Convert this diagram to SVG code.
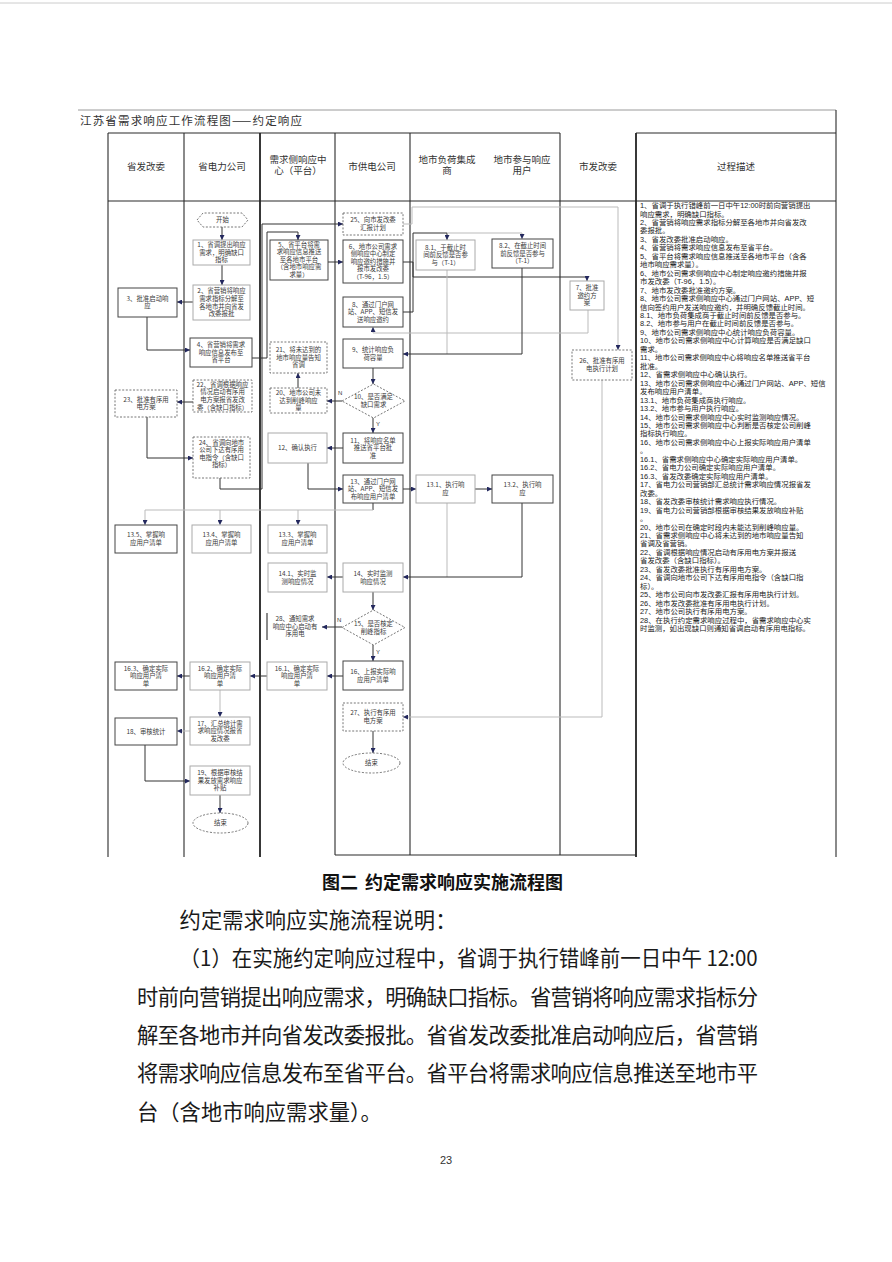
<svg xmlns="http://www.w3.org/2000/svg" width="892" height="1262" viewBox="0 0 892 1262">
<style>
.bg{fill:#fff}
.ln{stroke:#2a2a2a;stroke-width:1.1;fill:none}
.lt{stroke:#222;stroke-width:1.8;fill:none}
.lg{stroke:#9a9a9a;stroke-width:1;fill:none}
.n{fill:#fff;stroke:#444;stroke-width:1}
.nl{fill:#fff;stroke:#aaa;stroke-width:1}
.d{fill:#fff;stroke:#666;stroke-width:0.9;stroke-dasharray:2 1.6}
.c{fill:none;stroke:#333;stroke-width:1}
.cl{fill:none;stroke:#bbb;stroke-width:1}
.t{font-family:"Noto Sans CJK SC","Noto Sans",sans-serif;font-size:6.4px;fill:#3a3a3a;text-anchor:middle}
.h{font-family:"Liberation Sans","Noto Sans CJK SC",sans-serif;font-size:9.5px;fill:#333;text-anchor:middle}
.ds{font-family:"Liberation Sans","Noto Sans CJK SC",sans-serif;font-size:7.4px;fill:#222}
.p{font-family:"Noto Sans CJK SC","Noto Sans",sans-serif;font-size:21.3px;fill:#1a1a1a}
.yn{font-family:"Liberation Sans",sans-serif;font-size:6px;fill:#333}
</style>
<defs>
<marker id="a" markerWidth="5" markerHeight="5" refX="5" refY="2.5" orient="auto" markerUnits="userSpaceOnUse">
<path d="M0,0 L5,2.5 L0,5 z" fill="#23285e"/>
</marker>
</defs>
<rect class="bg" x="0" y="0" width="892" height="1262"/>
<line x1="0" y1="3" x2="892" y2="3" stroke="#ccc" stroke-width="1"/>

<!-- frame / swimlanes -->
<g id="frame">
<line class="lg" x1="78" y1="110" x2="836" y2="110"/>
<line class="ln" x1="108" y1="133" x2="560" y2="133"/>
<line class="ln" x1="636" y1="133" x2="836" y2="133"/>
<line class="ln" x1="108" y1="201" x2="836" y2="201"/>
<line class="ln" x1="836" y1="110" x2="836" y2="857"/>
<line class="ln" x1="108" y1="133" x2="108" y2="857"/>
<line class="ln" x1="184" y1="133" x2="184" y2="857"/>
<line class="lt" x1="260" y1="133" x2="260" y2="857"/>
<line class="ln" x1="335" y1="133" x2="335" y2="855"/>
<line class="ln" x1="410" y1="133" x2="410" y2="855"/>
<line class="ln" x1="560" y1="133" x2="560" y2="855"/>
<line class="lt" x1="636" y1="133" x2="636" y2="857"/>
<line class="ln" x1="335" y1="855" x2="636" y2="855"/>
<text x="80" y="125" font-family="Noto Sans CJK SC,sans-serif" font-size="11.5" fill="#333" textLength="222">江苏省需求响应工作流程图——约定响应</text>
<text class="h" x="146" y="170">省发改委</text>
<text class="h" x="222" y="170">省电力公司</text>
<text class="h"><tspan x="298" y="162.5">需求侧响应中</tspan><tspan x="298" y="174">心（平台）</tspan></text>
<text class="h" x="372" y="170">市供电公司</text>
<text class="h"><tspan x="447" y="162.5">地市负荷集成</tspan><tspan x="447" y="174">商</tspan></text>
<text class="h"><tspan x="522" y="162.5">地市参与响应</tspan><tspan x="522" y="174">用户</tspan></text>
<text class="h" x="598" y="170">市发改委</text>
<text class="h" x="736" y="170">过程描述</text>
</g>

<!-- connectors -->
<g id="connectors">
<path class="c" d="M222,227 V240" marker-end="url(#a)"/>
<path class="c" d="M222,265 V285" marker-end="url(#a)"/>
<path class="c" d="M193,302 H177" marker-end="url(#a)"/>
<path class="c" d="M147,317 V350 H190" marker-end="url(#a)"/>
<path class="c" d="M252,358 H267 V232 H298 V240" marker-end="url(#a)"/>
<path class="c" d="M328,262 H343" marker-end="url(#a)"/>
<path class="c" d="M403,262 H413 V277 H587 V281" marker-end="url(#a)"/>
<path class="cl" d="M588,310 V333 H373 V327" marker-end="url(#a)"/>
<path class="c" d="M403,312 H413 V233 H447 V240" marker-end="url(#a)"/>
<path class="cl" d="M447,233 H522 V239" marker-end="url(#a)"/>
<path class="cl" d="M447,270 V354"/>
<path class="c" d="M522,268 V354 H403" marker-end="url(#a)"/>
<path class="c" d="M373,368 V384" marker-end="url(#a)"/>
<path class="c" d="M342,401 H327" marker-end="url(#a)"/>
<path class="c" d="M298,388 V373" marker-end="url(#a)"/>
<path class="c" d="M193,402 H177" marker-end="url(#a)"/>
<path class="c" d="M147,417 V458 H193" marker-end="url(#a)"/>
<path class="c" d="M220,478 V489 H262 V224 H343" marker-end="url(#a)"/>
<path class="cl" d="M403,224 H412 V207 H618 V350" marker-end="url(#a)"/>
<path class="cl" d="M602,380 V717 H403" marker-end="url(#a)"/>
<path class="c" d="M373,731 V753" marker-end="url(#a)"/>
<path class="c" d="M373,418 V433" marker-end="url(#a)"/>
<path class="c" d="M343,448 H327" marker-end="url(#a)"/>
<path class="c" d="M308,463 V489 H343" marker-end="url(#a)"/>
<path class="c" d="M403,489 H416" marker-end="url(#a)"/>
<path class="c" d="M475,489 H492" marker-end="url(#a)"/>
<path class="cl" d="M447,503 V577"/>
<path class="c" d="M522,503 V577 H403" marker-end="url(#a)"/>
<path class="c" d="M373,503 V510"/>
<path class="cl" d="M373,510 H145"/>
<path class="cl" d="M145,510 V525" marker-end="url(#a)"/>
<path class="cl" d="M220,510 V525" marker-end="url(#a)"/>
<path class="cl" d="M298,510 V525" marker-end="url(#a)"/>
<path class="c" d="M343,577 H327" marker-end="url(#a)"/>
<path class="c" d="M373,592 V610" marker-end="url(#a)"/>
<path class="c" d="M342,627 H322" marker-end="url(#a)"/>
<path class="c" d="M373,645 V661" marker-end="url(#a)"/>
<path class="c" d="M343,676 H327" marker-end="url(#a)"/>
<path class="c" d="M267,676 H250" marker-end="url(#a)"/>
<path class="c" d="M190,676 H177" marker-end="url(#a)"/>
<path class="cl" d="M220,690 V717" marker-end="url(#a)"/>
<path class="cl" d="M190,731 H177" marker-end="url(#a)"/>
<path class="c" d="M145,745 V781 H190" marker-end="url(#a)"/>
<path class="c" d="M220,795 V813" marker-end="url(#a)"/>
<text class="yn" x="338" y="395">N</text>
<text class="yn" x="376" y="426">Y</text>
<text class="yn" x="337" y="622">N</text>
<text class="yn" x="376" y="654">Y</text>
</g>

<!-- 省发改委 -->
<g id="n3"><rect class="n" x="118" y="288" width="59" height="29"/><text class="t"><tspan x="147.5" y="300.8">3、批准启动响</tspan><tspan x="147.5" y="308.4">应</tspan></text></g>
<g id="n23"><rect class="d" x="115" y="390" width="62" height="27"/><text class="t"><tspan x="146" y="401.8">23、批准有序用</tspan><tspan x="146" y="409.4">电方案</tspan></text></g>
<g id="n13_5"><rect class="n" x="115" y="525" width="62" height="28"/><text class="t"><tspan x="146" y="537.3">13.5、掌握响</tspan><tspan x="146" y="544.9">应用户清单</tspan></text></g>
<g id="n16_3"><rect class="n" x="115" y="662" width="62" height="28"/><text class="t"><tspan x="146" y="670.6">16.3、确定实际</tspan><tspan x="146" y="678.2">响应用户清</tspan><tspan x="146" y="685.8">单</tspan></text></g>
<g id="n18"><rect class="n" x="115" y="718" width="62" height="27"/><text class="t"><tspan x="146" y="733.8">18、审核统计</tspan></text></g>

<!-- 省电力公司 -->
<g id="start"><polygon class="d" points="197,220 203,213 242,213 248,220 242,227 203,227"/><text class="t" x="222.5" y="222.3">开始</text></g>
<g id="n1"><rect class="nl" x="193" y="240" width="57" height="25"/><text class="t"><tspan x="221.5" y="247.1">1、省调提出响应</tspan><tspan x="221.5" y="254.7">需求，明确缺口</tspan><tspan x="221.5" y="262.3">指标</tspan></text></g>
<g id="n2"><rect class="nl" x="193" y="285" width="57" height="35"/><text class="t"><tspan x="221.5" y="293.3">2、省营销将响应</tspan><tspan x="221.5" y="300.9">需求指标分解至</tspan><tspan x="221.5" y="308.5">各地市并向省发</tspan><tspan x="221.5" y="316.1">改委报批</tspan></text></g>
<g id="n4"><rect class="n" x="190" y="338" width="62" height="29"/><text class="t"><tspan x="221" y="347.1">4、省营销将需求</tspan><tspan x="221" y="354.7">响应信息发布至</tspan><tspan x="221" y="362.3">省平台</tspan></text></g>
<g id="n22"><rect class="d" x="193" y="380" width="59" height="32"/><text class="t"><tspan x="222.5" y="386.8">22、省调根据响应</tspan><tspan x="222.5" y="394.4">情况启动有序用</tspan><tspan x="222.5" y="402">电方案报省发改</tspan><tspan x="222.5" y="409.6">委（含缺口指标）</tspan></text></g>
<g id="n24"><rect class="d" x="193" y="437" width="57" height="41"/><text class="t"><tspan x="221.5" y="444.5">24、省调向地市</tspan><tspan x="221.5" y="452.1">公司下达有序用</tspan><tspan x="221.5" y="459.7">电指令（含缺口</tspan><tspan x="221.5" y="467.3">指标）</tspan></text></g>
<g id="n13_4"><rect class="nl" x="192" y="525" width="59" height="28"/><text class="t"><tspan x="221.5" y="537.3">13.4、掌握响</tspan><tspan x="221.5" y="544.9">应用户清单</tspan></text></g>
<g id="n16_2"><rect class="nl" x="190" y="662" width="60" height="28"/><text class="t"><tspan x="220" y="670.6">16.2、确定实际</tspan><tspan x="220" y="678.2">响应用户清</tspan><tspan x="220" y="685.8">单</tspan></text></g>
<g id="n17"><rect class="nl" x="190" y="717" width="60" height="28"/><text class="t"><tspan x="220" y="725.6">17、汇总统计需</tspan><tspan x="220" y="733.2">求响应情况报省</tspan><tspan x="220" y="740.8">发改委</tspan></text></g>
<g id="n19"><rect class="nl" x="190" y="766" width="60" height="29"/><text class="t"><tspan x="220" y="775.1">19、根据审核结</tspan><tspan x="220" y="782.7">果发放需求响应</tspan><tspan x="220" y="790.3">补贴</tspan></text></g>
<g id="end1"><ellipse class="d" cx="220.5" cy="823" rx="27.5" ry="10"/><text class="t" x="220.5" y="825.3">结束</text></g>

<!-- 需求侧响应中心 -->
<g id="n5"><rect class="n" x="270" y="240" width="58" height="40"/><text class="t"><tspan x="299" y="246.5">5、省平台将需</tspan><tspan x="299" y="254.1">求响应信息推送</tspan><tspan x="299" y="261.7">至各地市平台</tspan><tspan x="299" y="269.3">（含地市响应需</tspan><tspan x="299" y="276.9">求量）</tspan></text></g>
<g id="n21"><rect class="d" x="270" y="342" width="57" height="31"/><text class="t"><tspan x="298.5" y="352.1">21、将未达到的</tspan><tspan x="298.5" y="359.7">地市响应量告知</tspan><tspan x="298.5" y="367.3">省调</tspan></text></g>
<g id="n20"><rect class="d" x="270" y="388" width="57" height="25"/><text class="t"><tspan x="298.5" y="395.1">20、地市公司未</tspan><tspan x="298.5" y="402.7">达到削峰响应</tspan><tspan x="298.5" y="410.3">量</tspan></text></g>
<g id="n12"><rect class="nl" x="268" y="433" width="59" height="30"/><text class="t" x="297.5" y="450.2">12、确认执行</text></g>
<g id="n13_3"><rect class="nl" x="268" y="525" width="59" height="28"/><text class="t"><tspan x="297.5" y="537.3">13.3、掌握响</tspan><tspan x="297.5" y="544.9">应用户清单</tspan></text></g>
<g id="n14_1"><rect class="nl" x="268" y="563" width="59" height="29"/><text class="t"><tspan x="297.5" y="575.9">14.1、实时监</tspan><tspan x="297.5" y="583.5">测响应情况</tspan></text></g>
<g id="n28"><line class="ln" x1="267" y1="613" x2="267" y2="640"/><text class="t"><tspan x="295" y="621.1">28、通知需求</tspan><tspan x="295" y="628.7">响应中心启动有</tspan><tspan x="295" y="636.3">序用电</tspan></text></g>
<g id="n16_1"><rect class="nl" x="267" y="662" width="60" height="28"/><text class="t"><tspan x="297" y="670.6">16.1、确定实际</tspan><tspan x="297" y="678.2">响应用户清</tspan><tspan x="297" y="685.8">单</tspan></text></g>

<!-- 市供电公司 -->
<g id="n25"><rect class="d" x="343" y="213" width="60" height="22"/><text class="t"><tspan x="373" y="222.4">25、向市发改委</tspan><tspan x="373" y="230">汇报计划</tspan></text></g>
<g id="n6"><rect class="n" x="343" y="240" width="60" height="43"/><text class="t"><tspan x="373" y="248.5">6、地市公司需求</tspan><tspan x="373" y="256.1">侧响应中心制定</tspan><tspan x="373" y="263.7">响应邀约措施并</tspan><tspan x="373" y="271.3">报市发改委</tspan><tspan x="373" y="278.9">（T-96，1.5）</tspan></text></g>
<g id="n8"><rect class="n" x="343" y="297" width="60" height="30"/><text class="t"><tspan x="373" y="306.6">8、通过门户网</tspan><tspan x="373" y="314.2">站、APP、短信发</tspan><tspan x="373" y="321.8">送响应邀约</tspan></text></g>
<g id="n9"><rect class="n" x="343" y="339" width="60" height="29"/><text class="t"><tspan x="373" y="351.9">9、统计响应负</tspan><tspan x="373" y="359.5">荷容量</tspan></text></g>
<g id="d10"><polygon class="d" points="342,401 373.5,384 405,401 373.5,418"/><text class="t"><tspan x="373.5" y="399.4">10、是否满足</tspan><tspan x="373.5" y="407">缺口需求</tspan></text></g>
<g id="n11"><rect class="n" x="343" y="433" width="60" height="30"/><text class="t"><tspan x="373" y="442.6">11、将响应名单</tspan><tspan x="373" y="450.2">推送省平台批</tspan><tspan x="373" y="457.8">准</tspan></text></g>
<g id="n13"><rect class="n" x="343" y="475" width="60" height="28"/><text class="t"><tspan x="373" y="483.6">13、通过门户网</tspan><tspan x="373" y="491.2">站、APP、短信发</tspan><tspan x="373" y="498.8">布响应用户清单</tspan></text></g>
<g id="n14"><rect class="nl" x="343" y="563" width="60" height="29"/><text class="t"><tspan x="373" y="575.9">14、实时监测</tspan><tspan x="373" y="583.5">响应情况</tspan></text></g>
<g id="d15"><polygon class="d" points="342,627.5 373.5,610 405,627.5 373.5,645"/><text class="t"><tspan x="373.5" y="625.9">15、是否核定</tspan><tspan x="373.5" y="633.5">削峰指标</tspan></text></g>
<g id="n16"><rect class="n" x="343" y="661" width="60" height="29"/><text class="t"><tspan x="373" y="673.9">16、上报实际响</tspan><tspan x="373" y="681.5">应用户清单</tspan></text></g>
<g id="n27"><rect class="d" x="343" y="703" width="60" height="28"/><text class="t"><tspan x="373" y="715.4">27、执行有序用</tspan><tspan x="373" y="723">电方案</tspan></text></g>
<g id="end2"><ellipse class="d" cx="371.5" cy="763" rx="28.5" ry="10"/><text class="t" x="371.5" y="765.3">结束</text></g>

<!-- 地市负荷集成商 / 参与用户 -->
<g id="n8_1"><rect class="nl" x="416" y="240" width="59" height="30"/><text class="t"><tspan x="445.5" y="249.6">8.1、于截止时</tspan><tspan x="445.5" y="257.2">间前反馈是否参</tspan><tspan x="445.5" y="264.8">与（T-1）</tspan></text></g>
<g id="n13_1"><rect class="nl" x="416" y="475" width="59" height="28"/><text class="t"><tspan x="445.5" y="487.4">13.1、执行响</tspan><tspan x="445.5" y="495">应</tspan></text></g>
<g id="n8_2"><rect class="n" x="492" y="239" width="61" height="29"/><text class="t"><tspan x="522.5" y="248.1">8.2、在截止时间</tspan><tspan x="522.5" y="255.7">前反馈是否参与</tspan><tspan x="522.5" y="263.3">（T-1）</tspan></text></g>
<g id="n13_2"><rect class="n" x="492" y="475" width="61" height="28"/><text class="t"><tspan x="522.5" y="487.4">13.2、执行响</tspan><tspan x="522.5" y="495">应</tspan></text></g>

<!-- 市发改委 -->
<g id="n7"><rect class="nl" x="570" y="281" width="34" height="29"/><text class="t"><tspan x="587" y="290.1">7、批准</tspan><tspan x="587" y="297.7">邀约方</tspan><tspan x="587" y="305.3">案</tspan></text></g>
<g id="n26"><rect class="d" x="572" y="350" width="60" height="30"/><text class="t"><tspan x="602" y="363.4">26、批准有序用</tspan><tspan x="602" y="371">电执行计划</tspan></text></g>

<!-- 过程描述 -->
<g id="desc">
<text class="ds">
<tspan x="640" y="208">1、省调于执行错峰前一日中午12:00时前向营销提出</tspan>
<tspan x="640" y="216.5">响应需求，明确缺口指标。</tspan>
<tspan x="640" y="224.9">2、省营销将响应需求指标分解至各地市并向省发改</tspan>
<tspan x="640" y="233.4">委报批。</tspan>
<tspan x="640" y="241.8">3、省发改委批准启动响应。</tspan>
<tspan x="640" y="250.3">4、省营销将需求响应信息发布至省平台。</tspan>
<tspan x="640" y="258.8">5、省平台将需求响应信息推送至各地市平台（含各</tspan>
<tspan x="640" y="267.2">地市响应需求量）。</tspan>
<tspan x="640" y="275.7">6、地市公司需求侧响应中心制定响应邀约措施并报</tspan>
<tspan x="640" y="284.1">市发改委（T-96，1.5）。</tspan>
<tspan x="640" y="292.6">7、地市发改委批准邀约方案。</tspan>
<tspan x="640" y="301.1">8、地市公司需求侧响应中心通过门户网站、APP、短</tspan>
<tspan x="640" y="309.5">信向签约用户发送响应邀约，并明确反馈截止时间。</tspan>
<tspan x="640" y="318">8.1、地市负荷集成商于截止时间前反馈是否参与。</tspan>
<tspan x="640" y="326.4">8.2、地市参与用户在截止时间前反馈是否参与。</tspan>
<tspan x="640" y="334.9">9、地市公司需求侧响应中心统计响应负荷容量。</tspan>
<tspan x="640" y="343.4">10、地市公司需求侧响应中心计算响应是否满足缺口</tspan>
<tspan x="640" y="351.8">需求。</tspan>
<tspan x="640" y="360.3">11、地市公司需求侧响应中心将响应名单推送省平台</tspan>
<tspan x="640" y="368.7">批准。</tspan>
<tspan x="640" y="377.2">12、省需求侧响应中心确认执行。</tspan>
<tspan x="640" y="385.7">13、地市公司需求侧响应中心通过门户网站、APP、短信</tspan>
<tspan x="640" y="394.1">发布响应用户清单。</tspan>
<tspan x="640" y="402.6">13.1、地市负荷集成商执行响应。</tspan>
<tspan x="640" y="411">13.2、地市参与用户执行响应。</tspan>
<tspan x="640" y="419.5">14、地市公司需求侧响应中心实时监测响应情况。</tspan>
<tspan x="640" y="428">15、地市公司需求侧响应中心判断是否核定公司削峰</tspan>
<tspan x="640" y="436.4">指标执行响应。</tspan>
<tspan x="640" y="444.9">16、地市公司需求侧响应中心上报实际响应用户清单</tspan>
<tspan x="640" y="453.3">。</tspan>
<tspan x="640" y="461.8">16.1、省需求侧响应中心确定实际响应用户清单。</tspan>
<tspan x="640" y="470.3">16.2、省电力公司确定实际响应用户清单。</tspan>
<tspan x="640" y="478.7">16.3、省发改委确定实际响应用户清单。</tspan>
<tspan x="640" y="487.2">17、省电力公司营销部汇总统计需求响应情况报省发</tspan>
<tspan x="640" y="495.6">改委。</tspan>
<tspan x="640" y="504.1">18、省发改委审核统计需求响应执行情况。</tspan>
<tspan x="640" y="512.6">19、省电力公司营销部根据审核结果发放响应补贴</tspan>
<tspan x="640" y="521">。</tspan>
<tspan x="640" y="529.5">20、地市公司在确定时段内未能达到削峰响应量。</tspan>
<tspan x="640" y="537.9">21、省需求侧响应中心将未达到的地市响应量告知</tspan>
<tspan x="640" y="546.4">省调及省营销。</tspan>
<tspan x="640" y="554.9">22、省调根据响应情况启动有序用电方案并报送</tspan>
<tspan x="640" y="563.3">省发改委（含缺口指标）。</tspan>
<tspan x="640" y="571.8">23、省发改委批准执行有序用电方案。</tspan>
<tspan x="640" y="580.2">24、省调向地市公司下达有序用电指令（含缺口指</tspan>
<tspan x="640" y="588.7">标）。</tspan>
<tspan x="640" y="597.2">25、地市公司向市发改委汇报有序用电执行计划。</tspan>
<tspan x="640" y="605.6">26、地市发改委批准有序用电执行计划。</tspan>
<tspan x="640" y="614.1">27、地市公司执行有序用电方案。</tspan>
<tspan x="640" y="622.5">28、在执行约定需求响应过程中，省需求响应中心实</tspan>
<tspan x="640" y="631">时监测，如出现缺口则通知省调启动有序用电指标。</tspan>
</text>
</g>

<!-- page text -->
<g id="page">
<text x="322" y="889" font-family="Noto Sans CJK SC,sans-serif" font-size="18" font-weight="bold" fill="#111">图二</text>
<text x="365" y="889" font-family="Noto Sans CJK SC,sans-serif" font-size="18" font-weight="bold" fill="#111">约定需求响应实施流程图</text>
<text class="p" x="179.6" y="928">约定需求响应实施流程说明：</text>
<text class="p" x="179.6" y="966" textLength="578" lengthAdjust="spacingAndGlyphs">（1）在实施约定响应过程中，省调于执行错峰前一日中午 12:00</text>
<text class="p" x="137" y="1005" textLength="621">时前向营销提出响应需求，明确缺口指标。省营销将响应需求指标分</text>
<text class="p" x="137" y="1043" textLength="621">解至各地市并向省发改委报批。省省发改委批准启动响应后，省营销</text>
<text class="p" x="137" y="1081" textLength="621">将需求响应信息发布至省平台。省平台将需求响应信息推送至地市平</text>
<text class="p" x="137" y="1120">台（含地市响应需求量）。</text>
<text x="446" y="1164" font-family="Liberation Sans,sans-serif" font-size="11" fill="#333" text-anchor="middle">23</text>
</g>
</svg>
